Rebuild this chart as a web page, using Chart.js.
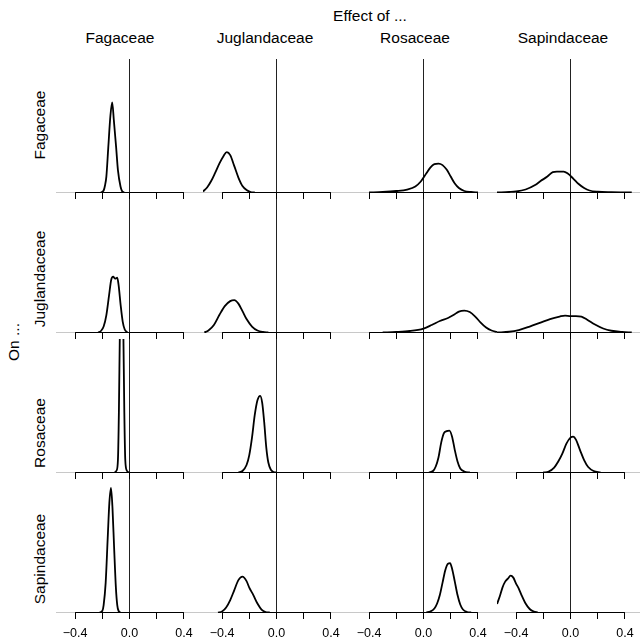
<!DOCTYPE html>
<html>
<head>
<meta charset="utf-8">
<script src="https://cdn.jsdelivr.net/npm/chart.js@4"></script>
<style>
  html, body { margin: 0; padding: 0; background: #fff; overflow: hidden; }
  #fig { position: relative; width: 640px; height: 642px; font-family: "Liberation Sans", Arial, sans-serif; color: #000; overflow: hidden; }
  #fig canvas { position: absolute; }
  .txt { position: absolute; white-space: nowrap; line-height: 1; transform: translate(-50%, -50%); }
  .rot { transform: translate(-50%, -50%) rotate(-90deg); }
</style>
</head>
<body>
<div id="fig"></div>
<script>
// Familles : colonnes = "Effect of ...", lignes = "On ..."
const EFFECT_FAMILIES = ['Fagaceae', 'Juglandaceae', 'Rosaceae', 'Sapindaceae'];
const ON_FAMILIES = ['Fagaceae', 'Juglandaceae', 'Rosaceae', 'Sapindaceae'];
const X_TICKS = [-0.4, -0.2, 0, 0.2, 0.4];
const X_LABELED = [-0.4, 0, 0.4];
const X_MIN = -0.54, X_MAX = 0.54;
const Y_MIN = -0.1, Y_MAX = 26.8;

// Densités a posteriori (nom = ligne + colonne, ex. fagJug = effet de Juglandaceae sur Fagaceae)
const fagFag_x = [-0.21, -0.19, -0.18, -0.17, -0.156, -0.14, -0.127, -0.115, -0.098, -0.085, -0.066, -0.055, -0.04];
const fagFag_y = [0, 0.4, 1.4, 3.2, 9, 15.5, 18.1, 14.5, 9, 4.5, 1.2, 0.3, 0];
const fagJug_x = [-0.54, -0.51, -0.48, -0.45, -0.42, -0.39, -0.365, -0.34, -0.31, -0.28, -0.25, -0.22, -0.19, -0.16];
const fagJug_y = [0.2, 1, 2.3, 4, 5.8, 7.3, 8.1, 7.5, 5.3, 3, 1.3, 0.5, 0.1, 0];
const fagRos_x = [-0.4, -0.3, -0.2, -0.12, -0.06, -0.02, 0.02, 0.05, 0.08, 0.11, 0.14, 0.17, 0.2, 0.23, 0.26, 0.3, 0.35, 0.4];
const fagRos_y = [0, 0.1, 0.3, 0.6, 1.2, 2.2, 3.8, 5, 5.7, 5.8, 5.5, 4.6, 3.2, 1.8, 0.9, 0.3, 0.1, 0];
const fagSap_x = [-0.54, -0.45, -0.4, -0.33, -0.26, -0.22, -0.17, -0.13, -0.1, -0.05, -0.02, 0.02, 0.06, 0.1, 0.14, 0.2, 0.3, 0.45];
const fagSap_y = [0, 0.1, 0.2, 0.6, 1.5, 2.3, 3.2, 4.1, 4.2, 4.2, 3.8, 2.8, 1.7, 0.9, 0.4, 0.15, 0.05, 0];

const jugFag_x = [-0.23, -0.21, -0.19, -0.17, -0.15, -0.135, -0.12, -0.105, -0.09, -0.08, -0.065, -0.05, -0.035, -0.015];
const jugFag_y = [0, 0.3, 1.2, 3.5, 7.5, 10.5, 11.2, 10.8, 11, 9.5, 5.5, 2.2, 0.6, 0];
const jugJug_x = [-0.53, -0.5, -0.46, -0.42, -0.38, -0.34, -0.31, -0.28, -0.25, -0.22, -0.18, -0.14, -0.1, -0.06];
const jugJug_y = [0, 0.4, 1.5, 3.5, 5.3, 6.3, 6.5, 5.8, 4.3, 2.7, 1.2, 0.4, 0.1, 0];
const jugRos_x = [-0.3, -0.2, -0.1, 0, 0.06, 0.12, 0.18, 0.22, 0.26, 0.3, 0.34, 0.38, 0.42, 0.46, 0.5, 0.54];
const jugRos_y = [0, 0.1, 0.3, 0.8, 1.5, 2.3, 2.9, 3.5, 4.2, 4.4, 4.1, 3.2, 2, 1, 0.4, 0.1];
const jugSap_x = [-0.54, -0.45, -0.38, -0.3, -0.22, -0.15, -0.08, -0.04, 0, 0.04, 0.08, 0.12, 0.18, 0.24, 0.3, 0.38, 0.45];
const jugSap_y = [0, 0.15, 0.5, 1.2, 2, 2.7, 3.2, 3.4, 3.3, 3.3, 3.2, 2.6, 1.6, 0.8, 0.35, 0.1, 0];

const rosFag_x = [-0.11, -0.095, -0.085, -0.078, -0.07, -0.058, -0.046, -0.038, -0.031, -0.02, -0.005];
const rosFag_y = [0, 0.4, 2.5, 12, 30, 44, 30, 12, 2.5, 0.4, 0];
const rosJug_x = [-0.28, -0.25, -0.22, -0.2, -0.18, -0.16, -0.14, -0.12, -0.105, -0.09, -0.075, -0.06, -0.04, -0.02, 0];
const rosJug_y = [0, 0.3, 1.5, 3.5, 7, 11.5, 14.5, 15.4, 14, 10, 5, 2, 0.5, 0.1, 0];
const rosRos_x = [0.04, 0.07, 0.09, 0.11, 0.13, 0.15, 0.17, 0.19, 0.21, 0.23, 0.25, 0.27, 0.3, 0.34];
const rosRos_y = [0, 0.3, 1.2, 3, 6, 7.9, 8.3, 8.4, 7.2, 4.5, 2.2, 0.8, 0.2, 0];
const rosSap_x = [-0.2, -0.16, -0.12, -0.09, -0.06, -0.03, 0, 0.02, 0.04, 0.07, 0.1, 0.13, 0.17, 0.22];
const rosSap_y = [0, 0.2, 1, 2.2, 3.8, 5.8, 7, 7.2, 6.6, 4.5, 2.5, 1.1, 0.3, 0];

const sapFag_x = [-0.22, -0.2, -0.19, -0.175, -0.16, -0.148, -0.136, -0.125, -0.113, -0.1, -0.09, -0.08, -0.065];
const sapFag_y = [0, 0.3, 1.5, 6, 15, 22, 25, 21, 13, 5, 1.5, 0.3, 0];
const sapJug_x = [-0.43, -0.4, -0.37, -0.34, -0.31, -0.28, -0.25, -0.22, -0.2, -0.17, -0.14, -0.11, -0.08, -0.05];
const sapJug_y = [0, 0.2, 1, 2.5, 4.5, 6.5, 7.2, 6.3, 5, 3.5, 1.8, 0.6, 0.1, 0];
const sapRos_x = [0.02, 0.05, 0.08, 0.1, 0.12, 0.14, 0.16, 0.18, 0.195, 0.21, 0.23, 0.25, 0.27, 0.29, 0.32, 0.35];
const sapRos_y = [0, 0.2, 0.8, 1.8, 3.5, 6, 8.5, 9.8, 9.9, 8.8, 6.2, 3.5, 1.6, 0.6, 0.1, 0];
const sapSap_x = [-0.54, -0.52, -0.5, -0.48, -0.46, -0.44, -0.42, -0.4, -0.38, -0.36, -0.33, -0.3, -0.27, -0.24];
const sapSap_y = [1.7, 3.2, 5, 6.2, 6.8, 7.4, 7, 5.8, 4.8, 3.5, 1.8, 0.7, 0.2, 0];

const PANELS = [
    [[fagFag_x, fagFag_y], [fagJug_x, fagJug_y], [fagRos_x, fagRos_y], [fagSap_x, fagSap_y]],
    [[jugFag_x, jugFag_y], [jugJug_x, jugJug_y], [jugRos_x, jugRos_y], [jugSap_x, jugSap_y]],
    [[rosFag_x, rosFag_y], [rosJug_x, rosJug_y], [rosRos_x, rosRos_y], [rosSap_x, rosSap_y]],
    [[sapFag_x, sapFag_y], [sapJug_x, sapJug_y], [sapRos_x, sapRos_y], [sapSap_x, sapSap_y]]
];

// Mise en page de la grille (pixels)
const COL_LEFT = [56, 203, 350, 497];
const ROW_TOP = [59, 199, 339, 479];
const PANEL_W = 147;
const PLOT_H = 134;
const TICK_LEN = 6;
const LABEL_PAD = 7;
const LABEL_AREA = 30;    // hauteur sous la zone de tracé pour la dernière ligne
const TITLE_SIZE = 15.5;

const fig = document.getElementById('fig');

function addText(str, x, y, size, rotated) {
    const el = document.createElement('div');
    el.className = rotated ? 'txt rot' : 'txt';
    el.style.left = x + 'px';
    el.style.top = y + 'px';
    el.style.fontSize = size + 'px';
    el.textContent = str;
    fig.appendChild(el);
}

// Seules -0.4, 0.0 et 0.4 sont étiquetées
function fmtTick(v) {
    if (!X_LABELED.some(t => Math.abs(t - v) < 1e-9)) return '';
    if (v === 0) return '0.0';
    return (v < 0 ? '\u2212' : '') + Math.abs(v).toFixed(1);
}

function drawPanel(row, col) {
    const [xs, ys] = PANELS[row][col];
    const isBottom = row === ON_FAMILIES.length - 1;
    const canvas = document.createElement('canvas');
    canvas.width = PANEL_W;
    canvas.height = isBottom ? PLOT_H + LABEL_AREA : PLOT_H + TICK_LEN;
    canvas.style.left = COL_LEFT[col] + 'px';
    canvas.style.top = ROW_TOP[row] + 'px';
    fig.appendChild(canvas);

    new Chart(canvas, {
        type: 'line',
        data: {
            datasets: [
                {
                    data: xs.map((x, i) => ({ x: x, y: ys[i] })),
                    borderColor: '#000', borderWidth: 1.8,
                    pointRadius: 0, cubicInterpolationMode: 'monotone', fill: false
                },
                {
                    // ligne d'axe entre les graduations extrêmes
                    data: [{ x: X_TICKS[0], y: 0 }, { x: X_TICKS[X_TICKS.length - 1], y: 0 }],
                    borderColor: '#000', borderWidth: 1, pointRadius: 0
                },
                {
                    // ligne de base grise sur toute la largeur
                    data: [{ x: X_MIN, y: 0 }, { x: X_MAX, y: 0 }],
                    borderColor: '#c8c8c8', borderWidth: 1, pointRadius: 0
                }
            ]
        },
        options: {
            responsive: false,
            animation: false,
            events: [],
            layout: { padding: 0 },
            plugins: { legend: { display: false }, tooltip: { enabled: false } },
            scales: {
                x: {
                    type: 'linear', min: X_MIN, max: X_MAX,
                    afterBuildTicks: axis => { axis.ticks = X_TICKS.map(v => ({ value: v })); },
                    // même largeur de tracé pour toutes les lignes
                    afterFit: axis => {
                        axis.paddingLeft = 0;
                        axis.paddingRight = 0;
                        axis.height = canvas.height - PLOT_H;
                    },
                    border: { display: false },
                    grid: {
                        color: c => (c.tick && c.tick.value === 0) ? '#222' : 'rgba(0,0,0,0)',
                        tickColor: '#000', tickLength: TICK_LEN, lineWidth: 1
                    },
                    ticks: {
                        display: isBottom, padding: LABEL_PAD, color: '#000', autoSkip: false, maxRotation: 0,
                        font: { family: '"Liberation Sans", Arial, sans-serif', size: 12.5 },
                        callback: v => fmtTick(v)
                    }
                },
                y: { display: false, min: Y_MIN, max: Y_MAX }
            }
        }
    });
}

ON_FAMILIES.forEach((_, r) => EFFECT_FAMILIES.forEach((_, c) => drawPanel(r, c)));

// Titres
addText('Effect of ...', 370, 16, TITLE_SIZE, false);
const HEADER_X = [120, 265, 415, 563];
EFFECT_FAMILIES.forEach((name, i) => addText(name, HEADER_X[i], 38, TITLE_SIZE, false));
const ROW_LABEL_Y = [125, 279, 433, 559];
ON_FAMILIES.forEach((name, i) => addText(name, 40, ROW_LABEL_Y[i], TITLE_SIZE, true));
addText('On ...', 14, 342, TITLE_SIZE, true);
</script>
</body>
</html>
